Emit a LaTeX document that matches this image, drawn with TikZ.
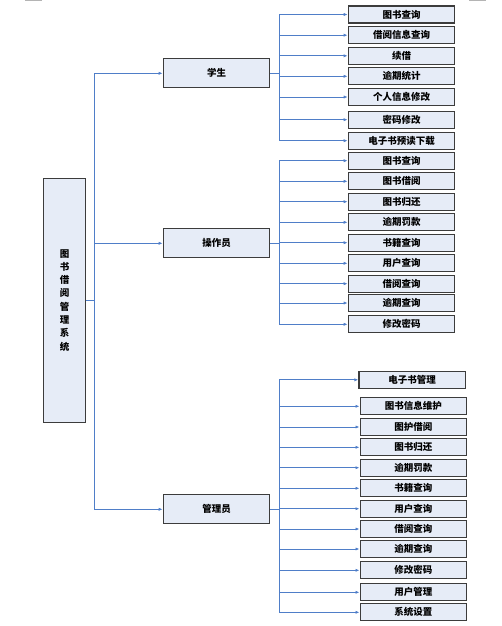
\documentclass[tikz,border=0pt]{standalone}
\usepackage{fontspec}
\setmainfont{Noto Sans CJK SC}
\usetikzlibrary{arrows.meta}
\definecolor{linkblue}{HTML}{4F7EC8}
\definecolor{boxfill}{HTML}{E6ECF7}
\definecolor{boxline}{HTML}{3C3C3C}
\definecolor{barGray}{HTML}{B4B4B4}
\tikzset{
  box/.style={draw=boxline, line width=1.1pt, fill=boxfill, inner sep=0pt,
    font=\fontsize{9.5pt}{11pt}\selectfont\bfseries},
  leaf/.style={box, minimum width=106.5pt, minimum height=17pt},
  mid/.style={box, minimum width=106.5pt, minimum height=29pt},
  link/.style={draw=linkblue, line width=0.9pt, -{Latex[length=4pt,width=3.2pt]}},
  plain/.style={draw=linkblue, line width=0.9pt},
}
\begin{document}
\begin{tikzpicture}[x=1pt,y=-1pt]
\useasboundingbox (0,0) rectangle (501,626);
\fill[barGray] (25,0) rectangle (42,1.2);
\fill[barGray] (469.3,0) rectangle (486,1.2);

% root
\node[box, minimum width=41.3pt, minimum height=244pt, align=center,
  font=\fontsize{9.5pt}{13.3pt}\selectfont\bfseries] (root) at (64.5,300.2)
  {图\\书\\借\\阅\\管\\理\\系\\统};

% level 2
\node[mid] (stu) at (216.5,73.3) {学生};
\node[mid] (opr) at (216.5,243.3) {操作员};
\node[mid] (adm) at (216.5,509.3) {管理员};

\coordinate (rj) at (94.3,300.2);
\draw[plain] (root.east) -- (rj);
\draw[link] (rj) |- (stu.west);
\draw[link] (rj) |- (opr.west);
\draw[link] (rj) |- (adm.west);

% student leaves
\foreach \n/\y/\t in {s1/14.5/图书查询, s2/35.2/借阅信息查询, s3/55.8/续借,
  s4/76.3/逾期统计, s5/97/个人信息修改, s6/119.7/密码修改, s7/140.7/电子书预读下载}
  {\node[leaf] (\n) at (401.5,\y) {\t};}
\coordinate (sj) at (279.3,73.3);
\draw[plain] (stu.east) -- (sj);
\foreach \n in {s1,s2,s3,s4,s5,s6,s7} {\draw[link] (sj) |- (\n.west);}

% operator leaves
\foreach \n/\y/\t in {o1/160.7/图书查询, o2/181.3/图书借阅, o3/201.7/图书归还,
  o4/222.3/逾期罚款, o5/242.7/书籍查询, o6/263.3/用户查询, o7/283.7/借阅查询,
  o8/303/逾期查询, o9/324.3/修改密码}
  {\node[leaf] (\n) at (401.5,\y) {\t};}
\coordinate (oj) at (279.3,243.3);
\draw[plain] (opr.east) -- (oj);
\foreach \n in {o1,o2,o3,o4,o5,o6,o7,o8,o9} {\draw[link] (oj) |- (\n.west);}

% admin leaves
\node[leaf] (a1) at (412.2,379.8) {电子书管理};
\foreach \n/\y/\t in {a2/406.3/图书信息维护, a3/427/图护借阅, a4/447.3/图书归还,
  a5/467.7/逾期罚款, a6/488.3/书籍查询, a7/508.7/用户查询, a8/529/借阅查询,
  a9/549/逾期查询, a10/570.3/修改密码, a11/592.3/用户管理, a12/612.3/系统设置}
  {\node[leaf] (\n) at (413.3,\y) {\t};}
\coordinate (aj) at (279.3,509.3);
\draw[plain] (adm.east) -- (aj);
\foreach \n in {a1,a2,a3,a4,a5,a6,a7,a8,a9,a10,a11,a12} {\draw[link] (aj) |- (\n.west);}
\end{tikzpicture}
\end{document}
